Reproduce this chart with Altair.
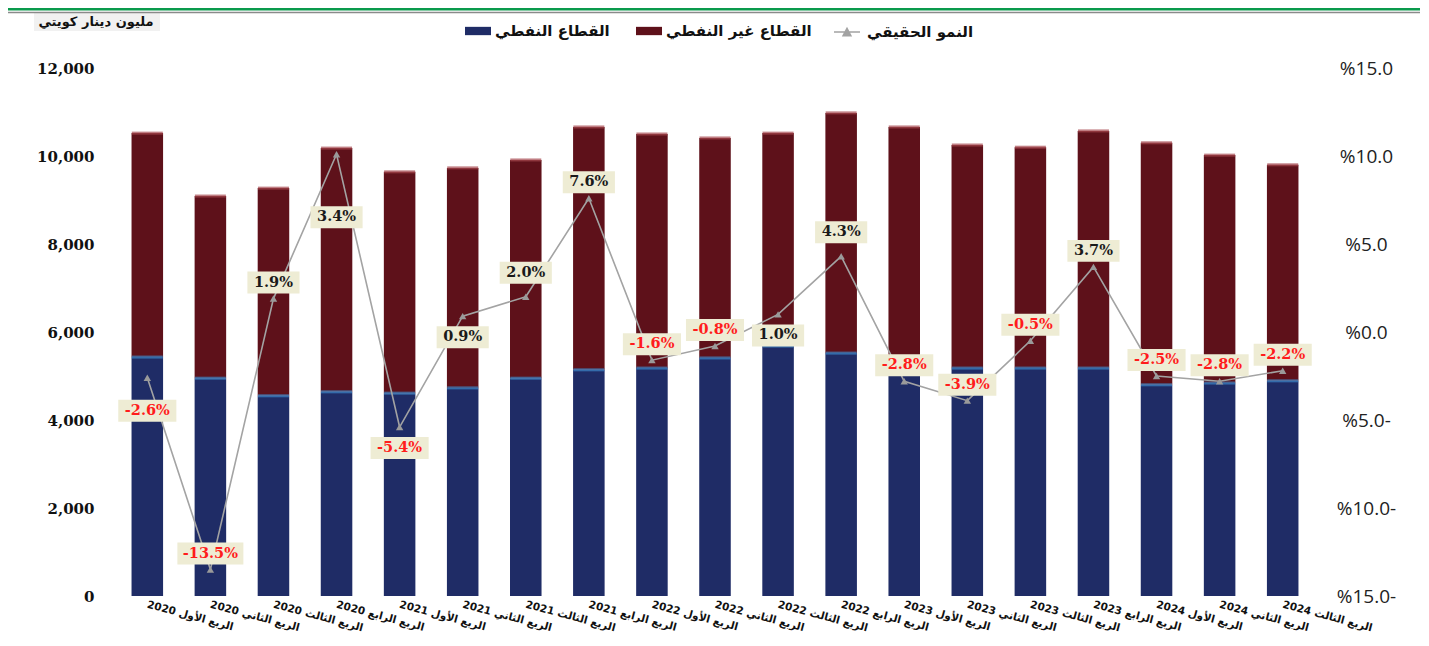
import altair as alt
import pandas as pd

# ---------------- data ----------------
years = ["2020"] * 4 + ["2021"] * 4 + ["2022"] * 4 + ["2023"] * 4 + ["2024"] * 3
ordinals = ["الأول", "الثاني", "الثالث", "الرابع"] * 4 + ["الأول", "الثاني", "الثالث"]
quarters = [f"{y} الربع {o}" for y, o in zip(years, ordinals)]

oil = [5430, 4950, 4550, 4640, 4610, 4730, 4950, 5140, 5180, 5410,
       5680, 5520, 5080, 5180, 5180, 5180, 4800, 4840, 4890]
non_oil = [5090, 4140, 4720, 5540, 5030, 5000, 4960, 5520, 5320, 5000,
           4840, 5460, 5580, 5070, 5020, 5390, 5500, 5180, 4910]
growth = [-2.6, -13.5, 1.9, 10.1, -5.4, 0.9, 2.0, 7.6, -1.6, -0.8,
          1.0, 4.3, -2.8, -3.9, -0.5, 3.7, -2.5, -2.8, -2.2]
growth_labels = ["-2.6%", "-13.5%", "1.9%", "3.4%", "-5.4%", "0.9%", "2.0%", "7.6%",
                 "-1.6%", "-0.8%", "1.0%", "4.3%", "-2.8%", "-3.9%", "-0.5%", "3.7%",
                 "-2.5%", "-2.8%", "-2.2%"]
label_place = ["low", "above", "above", "far", "below", "below", "high", "above",
               "above", "above", "below", "high", "above", "above", "above", "above",
               "above", "above", "above"]

OIL = "القطاع النفطي"
NON = "القطاع غير النفطي"
GROWTH = "النمو الحقيقي"
UNIT = "مليون دينار كويتي"

# ---------------- layout / style ----------------
W, H = 1230, 528
G_MIN, G_MAX = -15, 15
px_per_unit = H / (G_MAX - G_MIN)
place_px = {"above": -16, "high": -24, "below": 21, "low": 33, "far": 63}

NAVY = "#1f2c66"
MAROON = "#5e111a"
GRAY = "#a3a3a3"

bars_df = pd.DataFrame(
    [{"q": q, "sector": OIL, "v": o, "o": 0} for q, o in zip(quarters, oil)]
    + [{"q": q, "sector": NON, "v": n, "o": 1} for q, n in zip(quarters, non_oil)]
)
wide_df = pd.DataFrame({"q": quarters, "oil": oil, "non_oil": non_oil})
wide_df["total"] = wide_df["oil"] + wide_df["non_oil"]

g_df = pd.DataFrame({"q": quarters, "g": growth, "lab": growth_labels, "place": label_place})
g_df["ly"] = [g - place_px[p] / px_per_unit for g, p in zip(growth, label_place)]
g_df["len"] = [str(min(len(s), 6)) for s in growth_labels]
g_df["neg"] = ["neg" if s.startswith("-") else "pos" for s in growth_labels]
g_df["series"] = GROWTH

x_axis = alt.Axis(
    title=None, labelAngle=15, labelAlign="left", labelBaseline="middle",
    labelPadding=8, labelFont="DejaVu Sans", labelFontWeight="bold",
    labelFontSize=10.5, labelColor="#111", ticks=False, domain=False,
    labelOverlap=False, grid=False, labelLimit=0,
)
x_enc = alt.X("q:N", sort=quarters, axis=x_axis,
              scale=alt.Scale(paddingInner=0.5, paddingOuter=0.5))

left_axis = alt.Axis(
    title=None, orient="left", values=list(range(0, 12001, 2000)),
    labelExpr='format(datum.value, ",")',
    labelFont="DejaVu Serif", labelFontWeight="bold", labelFontSize=15,
    labelColor="#111", labelPadding=6, ticks=False, domain=False, grid=False,
)
left_scale = alt.Scale(domain=[0, 12000], nice=False)

right_axis = alt.Axis(
    title=None, orient="right", values=list(range(-15, 16, 5)),
    labelExpr='"%" + format(abs(datum.value), ".1f") + (datum.value < 0 ? "-" : "")',
    labelFont="Open Sans", labelFontSize=19, labelColor="#222",
    labelAlign="center", labelPadding=36, ticks=False, domain=False, grid=False,
)
right_scale = alt.Scale(domain=[G_MIN, G_MAX], nice=False, zero=False)

# ---------------- bars group ----------------
bars = alt.Chart(bars_df).mark_bar().encode(
    x=x_enc,
    y=alt.Y("v:Q", stack="zero", scale=left_scale, axis=left_axis),
    color=alt.Color(
        "sector:N",
        scale=alt.Scale(domain=[OIL, NON], range=[NAVY, MAROON]),
        legend=alt.Legend(
            orient="none", legendX=365, legendY=-50, direction="horizontal",
            title=None, labelFont="DejaVu Sans", labelFontWeight="bold",
            labelFontSize=15, labelColor="#111", labelOffset=4,
            symbolType="M-1,-0.32L1,-0.32L1,0.32L-1,0.32Z", symbolSize=676,
            symbolStrokeWidth=0, columnPadding=26, padding=0,
        ),
    ),
    order=alt.Order("o:Q"),
)
oil_cap = alt.Chart(wide_df).mark_tick(thickness=3, size=31, color="#3d86c8").encode(
    x=x_enc, y=alt.Y("oil:Q", scale=left_scale, axis=left_axis)
)
top_cap = alt.Chart(wide_df).mark_tick(thickness=3, size=31, color="#a5474f").encode(
    x=x_enc, y=alt.Y("total:Q", scale=left_scale, axis=left_axis)
)
bar_group = alt.layer(bars, oil_cap, top_cap)

# ---------------- growth group ----------------
line = alt.Chart(g_df).mark_line(strokeWidth=1.6).encode(
    x=x_enc,
    y=alt.Y("g:Q", scale=right_scale, axis=right_axis),
    stroke=alt.Stroke(
        "series:N",
        scale=alt.Scale(domain=[GROWTH], range=[GRAY]),
        legend=alt.Legend(
            orient="none", legendX=733, legendY=-50, title=None,
            labelFont="DejaVu Sans", labelFontWeight="bold", labelFontSize=15,
            labelColor="#111", labelOffset=6,
            symbolType="M-1,0L1,0M-0.3,0.28L0,-0.28L0.3,0.28Z", symbolSize=676,
            symbolStrokeWidth=1.5, symbolFillColor=GRAY, padding=0,
        ),
    ),
)
tri = alt.Chart(g_df).mark_point(shape="triangle-up", filled=True, size=55,
                                 color="#9a9a9a", opacity=1).encode(
    x=x_enc, y=alt.Y("g:Q", scale=right_scale, axis=right_axis)
)
box_paths = {
    "4": "M-0.79,-0.333L0.79,-0.333L0.79,0.333L-0.79,0.333Z",
    "5": "M-0.88,-0.333L0.88,-0.333L0.88,0.333L-0.88,0.333Z",
    "6": "M-1,-0.333L1,-0.333L1,0.333L-1,0.333Z",
}
boxes = alt.Chart(g_df).mark_point(filled=True, size=4356, color="#eeecd4",
                                   opacity=1, strokeWidth=0).encode(
    x=x_enc,
    y=alt.Y("ly:Q", scale=right_scale, axis=right_axis),
    shape=alt.Shape("len:N", scale=alt.Scale(domain=list(box_paths.keys()),
                                              range=list(box_paths.values())),
                    legend=None),
)
texts = alt.Chart(g_df).mark_text(font="DejaVu Serif", fontWeight="bold",
                                  fontSize=14.5, baseline="middle").encode(
    x=x_enc,
    y=alt.Y("ly:Q", scale=right_scale, axis=right_axis),
    text="lab:N",
    color=alt.Color("neg:N", scale=alt.Scale(domain=["neg", "pos"],
                                              range=["#ff1c1c", "#1a1a1a"]),
                    legend=None),
)

unit_bg = alt.Chart(pd.DataFrame({"a": [0]})).mark_rect(color="#f1f1f1").encode(
    x=alt.value(-66), x2=alt.value(60), y=alt.value(-55), y2=alt.value(-37)
)
unit_txt = alt.Chart(pd.DataFrame({"a": [0]})).mark_text(
    font="DejaVu Sans", fontWeight="bold", fontSize=13, color="#111",
    align="center", baseline="middle",
).encode(x=alt.value(-4), y=alt.value(-46), text=alt.value(UNIT))
green_band = alt.Chart(pd.DataFrame({"a": [0]})).mark_rule(
    color="#0a9a4c", strokeWidth=3).encode(
    x=alt.value(-92), x2=alt.value(W + 90), y=alt.value(-59))
gray_line = alt.Chart(pd.DataFrame({"a": [0]})).mark_rule(
    color="#8a8a8a", strokeWidth=1.5).encode(
    x=alt.value(-92), x2=alt.value(W + 90), y=alt.value(-55.5))

growth_group = alt.layer(line, tri, boxes, texts, unit_bg, unit_txt, green_band, gray_line)

chart = alt.layer(bar_group, growth_group).resolve_scale(
    y="independent", color="independent"
).properties(
    width=W, height=H,
    autosize=alt.AutoSizeParams(type="none"),
    padding={"left": 92, "top": 60, "right": 90, "bottom": 42},
    background="white",
).configure_view(stroke=None)

chart.save("out.html", embed_options={"renderer": "svg", "actions": False})
